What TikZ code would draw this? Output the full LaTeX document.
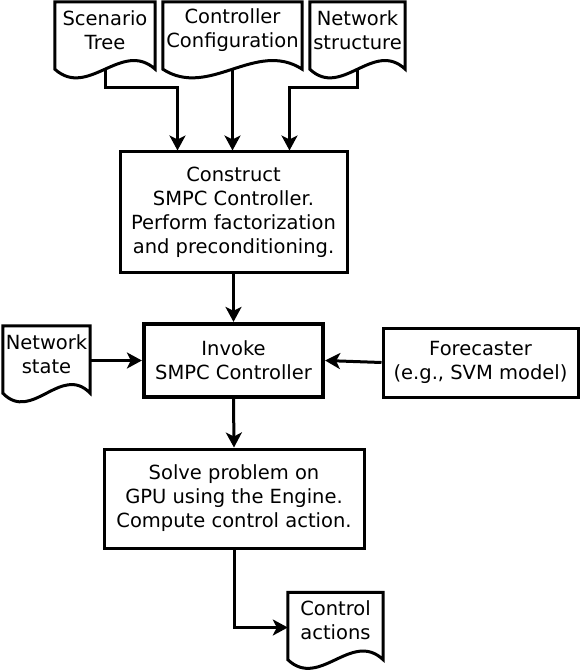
\documentclass[tikz,border=0pt]{standalone}
\usepackage{fontspec}
\setmainfont{DejaVu Sans}
\usepackage{tikz}
\usetikzlibrary{arrows.meta, positioning, calc}

\newcommand{\docoutline}[1]{%
  \coordinate (#1-l) at ([yshift=-11pt]#1.south west);
  \coordinate (#1-r) at ([yshift=-11pt]#1.south east);
  \coordinate (#1-b) at ([yshift=-11pt]#1.south);
  \draw[docline] (#1.north west) -- (#1-l)
    .. controls ($(#1-l)!0.333!(#1-r)+(0,30)$) and ($(#1-l)!0.667!(#1-r)+(0,-30)$) .. (#1-r)
    -- (#1.north east) -- cycle;
}

\begin{document}
\begin{tikzpicture}[
    x=1pt, y=-1pt,
    every node/.style={align=center, inner sep=0pt, font=\fontsize{19.5}{24}\selectfont},
    procbox/.style={draw, rectangle, line width=3pt},
    docu/.style={rectangle, minimum height=56pt},
    docline/.style={line width=3pt, line join=miter},
    flow/.style={line width=3pt, -{Stealth[length=15pt, width=16pt, inset=4pt]}}
  ]
  \useasboundingbox (0,0) rectangle (581,671);

  \node[docu, minimum width=100pt] (scentree) at (105,30) {Scenario\\Tree};
  \node[docu, minimum width=139pt] (ctrlconf) at (232.5,30) {Controller\\Configuration};
  \node[docu, minimum width=95pt] (netstruct) at (357.5,30) {Network\\structure};
  \docoutline{scentree}
  \docoutline{ctrlconf}
  \docoutline{netstruct}

  \node[procbox, minimum width=227pt, minimum height=120pt] (construct) at (233.5,212)
    {Construct\\SMPC Controller.\\Perform factorization\\and preconditioning.};

  \node[procbox, line width=4.2pt, minimum width=179pt, minimum height=73pt] (invoke) at (233.5,360.5)
    {Invoke\\SMPC Controller};
  \node[docu, minimum width=87pt] (netstate) at (46.5,354) {Network\\state};
  \docoutline{netstate}
  \node[procbox, minimum width=195pt, minimum height=69pt] (forecast) at (480.5,362.5)
    {Forecaster\\(e.g., SVM model)};

  \node[procbox, minimum width=260pt, minimum height=99pt] (solve) at (234,498.5)
    {Solve problem on\\GPU using the Engine.\\Compute control action.};

  \node[docu, minimum width=95pt] (ctrlact) at (335.5,620.5) {Control\\actions};
  \docoutline{ctrlact}

  \draw[flow] (scentree-b) -- ++(0,18) -| ([xshift=-56pt]construct.north);
  \draw[flow] (ctrlconf-b) -- (ctrlconf-b |- construct.north);
  \draw[flow] (netstruct-b) -- ++(0,18) -| ([xshift=56pt]construct.north);
  \draw[flow] (construct.south) -- (invoke.north);
  \draw[flow] (netstate.east |- invoke.west) -- (invoke.west);
  \draw[flow] (forecast.west) -- (invoke.east);
  \draw[flow] (invoke.south) -- (solve.north);
  \draw[flow] (solve.south) |- ([yshift=-7pt]ctrlact.west);
\end{tikzpicture}
\end{document}
